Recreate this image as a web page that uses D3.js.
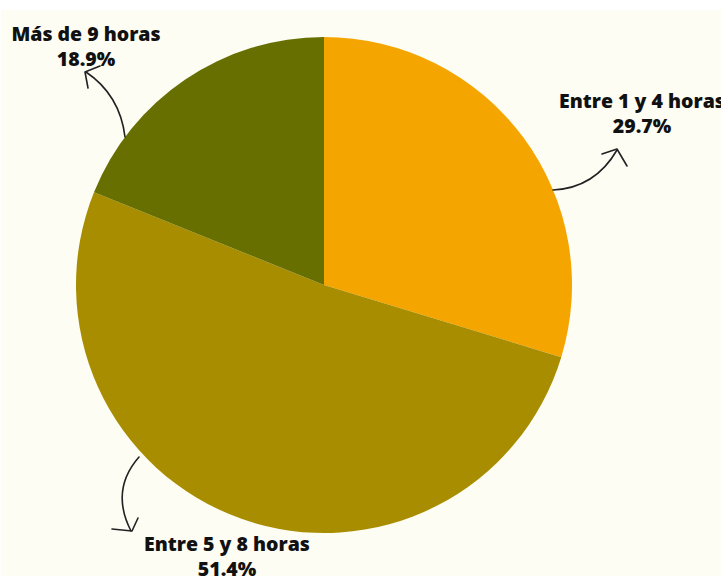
<!DOCTYPE html>
<html>
<head>
<meta charset="utf-8">
<script src="https://cdn.jsdelivr.net/npm/d3@7"></script>
<style>
  body { margin: 0; background: #fff; }
  svg { display: block; }
  text { font-family: "Open Sans", "Noto Sans", sans-serif; font-weight: 800; font-size: 19.5px; fill: #111; }
</style>
</head>
<body>
<div id="chart"></div>
<script>
var categories = ['Entre 1 y 4 horas', 'Entre 5 y 8 horas', 'Más de 9 horas'];
var values = [29.7, 51.4, 18.9];
var colors = ['#f5a500', '#a98d00', '#666f00'];

var width = 721, height = 576;
var cx = 324, cy = 285, radius = 248;

var svg = d3.select('#chart').append('svg')
  .attr('width', width)
  .attr('height', height);

svg.append('rect')
  .attr('x', 1).attr('y', 10)
  .attr('width', width).attr('height', height)
  .attr('fill', '#fdfdf4');

var data = categories.map(function(c, i) {
  return {name: c, value: values[i], color: colors[i]};
});

var pie = d3.pie().sort(null).value(function(d) { return d.value; });
var arc = d3.arc().innerRadius(0).outerRadius(radius);

var g = svg.append('g').attr('transform', 'translate(' + cx + ',' + cy + ')');
g.selectAll('path')
  .data(pie(data))
  .enter().append('path')
  .attr('d', arc)
  .attr('fill', function(d) { return d.data.color; });

// labels (hand placed, like the original)
var labelPos = [
  {x: 642, y: 108},
  {x: 227, y: 551},
  {x: 86, y: 41}
];
data.forEach(function(d, i) {
  var t = svg.append('text')
    .attr('text-anchor', 'middle')
    .attr('x', labelPos[i].x)
    .attr('y', labelPos[i].y);
  t.append('tspan').attr('x', labelPos[i].x).text(d.name);
  t.append('tspan').attr('x', labelPos[i].x).attr('dy', 25).text(d3.format('.1f')(d.value) + '%');
});

// sketchy arrows
var arrows = [
  {line: 'M553,190 Q595,188 617,150', head: 'M602,154 L617,149 L627,166'},
  {line: 'M139,457 Q110,490 131,531', head: 'M112,529 L132,531 L138,518'},
  {line: 'M125,137 Q120,95 86,72', head: 'M88,88 L85,72 L100,66'}
];
svg.selectAll('.arrow')
  .data(arrows)
  .enter().append('g')
  .attr('class', 'arrow')
  .each(function(d) {
    var a = d3.select(this);
    a.append('path').attr('d', d.line);
    a.append('path').attr('d', d.head);
  })
  .selectAll('path')
  .attr('fill', 'none')
  .attr('stroke', '#222')
  .attr('stroke-width', 1.6)
  .attr('stroke-linecap', 'round')
  .attr('stroke-linejoin', 'round');
</script>
</body>
</html>
